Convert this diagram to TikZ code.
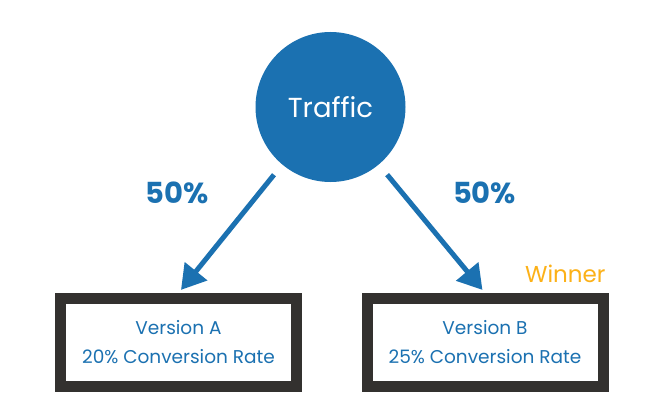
\documentclass[tikz,border=0pt]{standalone}
\usepackage{fontspec}
\setmainfont{Poppins}
\usetikzlibrary{arrows.meta}
\definecolor{tblue}{RGB}{27,113,177}
\definecolor{tdark}{RGB}{51,49,47}
\definecolor{torange}{RGB}{252,177,24}
\tikzset{
  trafficnode/.style={circle, fill=tblue, minimum size=150pt, inner sep=0pt, text=white, font=\fontsize{27.5}{30}\selectfont},
  versionbox/.style={draw=tdark, line width=11pt, fill=white, minimum width=236pt, minimum height=88pt, inner sep=0pt, text=tblue, align=center, font=\fontsize{18.5}{29}\selectfont},
  splitarrow/.style={draw=tblue, line width=5pt, -{Triangle[length=24pt,width=28pt]}},
  pctlabel/.style={text=tblue, font=\fontsize{29}{30}\selectfont\bfseries},
  winlabel/.style={text=torange, font=\fontsize{23}{26}\selectfont, anchor=east}
}
\begin{document}
\begin{tikzpicture}[x=1pt,y=-1pt]
\useasboundingbox[fill=white] (0,0) rectangle (650,409);
\node[trafficnode] (traffic) at (330.5,107) {Traffic};
\node[versionbox] (boxA) at (178.5,342.5) {Version A\\20\% Conversion Rate};
\node[versionbox] (boxB) at (485,342.5) {Version B\\25\% Conversion Rate};
\node[pctlabel] (pctA) at (177,193) {50\%};
\node[pctlabel] (pctB) at (484.5,193) {50\%};
\node[winlabel] (winner) at (609,274) {Winner};
\draw[splitarrow, shorten <=13pt, shorten >=4pt] (traffic.230) -- (boxA.north);
\draw[splitarrow, shorten <=13pt, shorten >=4pt] (traffic.310) -- (boxB.north);
\end{tikzpicture}
\end{document}
